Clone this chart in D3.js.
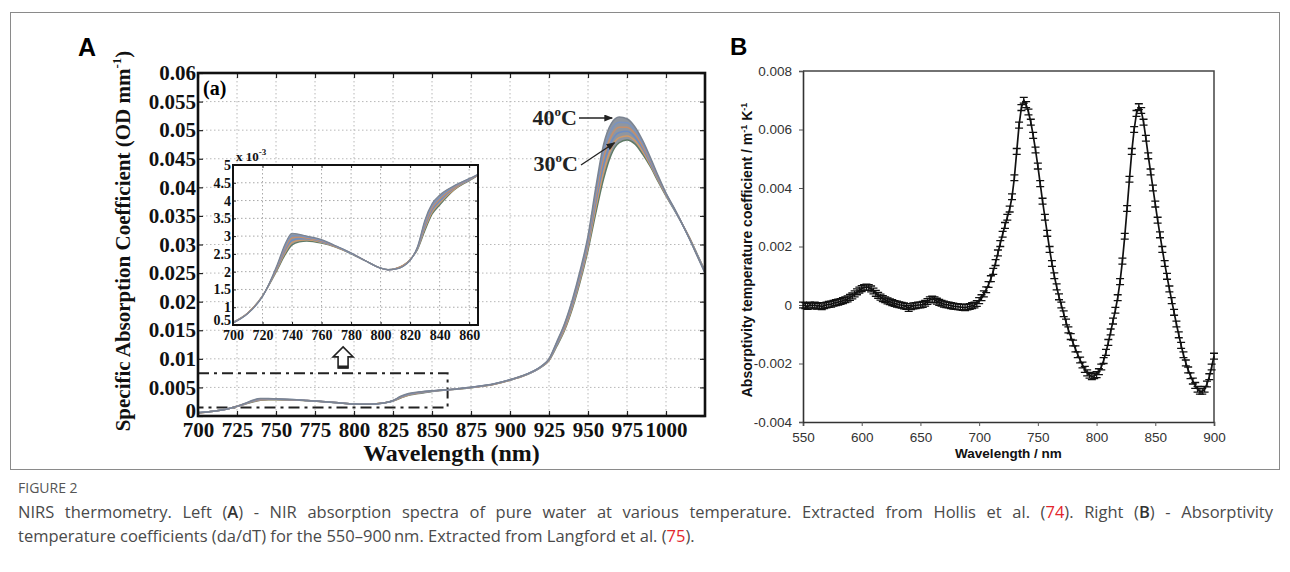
<!DOCTYPE html>
<html>
<head>
<meta charset="utf-8">
<script src="https://cdn.jsdelivr.net/npm/d3@7"></script>
<style>
  body { margin: 0; background: #fff; }
  svg { display: block; }
</style>
</head>
<body>
<svg id="chart" width="1290" height="572"></svg>
<script>
// ---- panel A: specific absorption (units of 1e-3 OD/mm) at several temperatures ----
const wlA = [700, 710, 720, 730, 735, 740, 745, 750, 760, 770, 780, 790, 800, 805, 810, 820, 825, 830, 835, 840,
  850, 860, 866, 875, 890, 900, 910, 920, 925, 930, 935, 940, 945, 950, 955, 960, 965, 970, 975, 980,
  985, 990, 995, 1000, 1005, 1010, 1015, 1020, 1025];
const abs30 = [0.58, 0.84, 1.32, 2.05, 2.45, 2.75, 2.84, 2.86, 2.80, 2.68, 2.50, 2.30, 2.10, 2.06, 2.09, 2.34, 2.62, 3.15, 3.62, 3.87,
  4.30, 4.56, 4.70, 4.95, 5.55, 6.25, 7.15, 8.55, 9.70, 12.2, 15.0, 18.8, 23.5, 29.0, 35.5, 41.5, 45.8, 47.8, 48.3, 47.6,
  45.8, 43.6, 41.0, 38.5, 36.2, 33.8, 31.2, 28.3, 25.4];
const abs32 = [0.57, 0.84, 1.32, 2.08, 2.51, 2.82, 2.88, 2.89, 2.82, 2.69, 2.51, 2.30, 2.10, 2.06, 2.09, 2.34, 2.64, 3.21, 3.68, 3.93,
  4.32, 4.57, 4.71, 4.97, 5.57, 6.27, 7.17, 8.58, 9.76, 12.4, 15.2, 19.1, 23.9, 29.5, 36.4, 42.7, 46.9, 48.7, 49.0, 48.2,
  46.3, 43.9, 41.2, 38.6, 36.3, 33.8, 31.2, 28.2, 25.3];
const abs34 = [0.57, 0.83, 1.31, 2.11, 2.57, 2.88, 2.92, 2.92, 2.84, 2.70, 2.51, 2.30, 2.10, 2.06, 2.08, 2.33, 2.65, 3.27, 3.74, 3.98,
  4.35, 4.58, 4.72, 4.99, 5.59, 6.29, 7.19, 8.61, 9.82, 12.5, 15.5, 19.4, 24.3, 30.0, 37.3, 43.9, 48.0, 49.6, 49.8, 48.8,
  46.8, 44.2, 41.4, 38.7, 36.3, 33.8, 31.1, 28.2, 25.2];
const abs36 = [0.56, 0.83, 1.31, 2.14, 2.63, 2.95, 2.97, 2.94, 2.86, 2.70, 2.52, 2.30, 2.10, 2.05, 2.08, 2.33, 2.67, 3.33, 3.80, 4.04,
  4.37, 4.60, 4.72, 5.01, 5.61, 6.31, 7.21, 8.64, 9.88, 12.7, 15.7, 19.8, 24.7, 30.5, 38.2, 45.1, 49.0, 50.5, 50.5, 49.4,
  47.2, 44.6, 41.6, 38.8, 36.4, 33.8, 31.1, 28.1, 25.2];
const abs38 = [0.56, 0.82, 1.30, 2.17, 2.69, 3.01, 3.01, 2.97, 2.88, 2.71, 2.52, 2.30, 2.10, 2.05, 2.07, 2.32, 2.68, 3.39, 3.86, 4.09,
  4.40, 4.61, 4.73, 5.03, 5.63, 6.33, 7.23, 8.67, 9.94, 12.8, 16.0, 20.1, 25.1, 31.0, 39.1, 46.3, 50.1, 51.4, 51.3, 50.0,
  47.7, 44.9, 41.8, 38.9, 36.4, 33.8, 31.0, 28.1, 25.1];
const abs40 = [0.55, 0.82, 1.30, 2.20, 2.75, 3.08, 3.05, 3.00, 2.90, 2.72, 2.53, 2.30, 2.10, 2.05, 2.07, 2.32, 2.70, 3.45, 3.92, 4.15,
  4.42, 4.62, 4.74, 5.05, 5.65, 6.35, 7.25, 8.70, 10.0, 13.0, 16.2, 20.4, 25.5, 31.5, 40.0, 47.5, 51.2, 52.3, 52.0, 50.6,
  48.2, 45.2, 42.0, 39.0, 36.5, 33.8, 31.0, 28.0, 25.0];
const curvesA = [abs30, abs32, abs34, abs36, abs38, abs40];
const curveColors = ["#5f7a66", "#cf9a6a", "#6d8dc2", "#c58f6c", "#7a93c0", "#7b8492"];

const xTicksA = [700, 725, 750, 775, 800, 825, 850, 875, 900, 925, 950, 975, 1000];
const yTicksA = [0, 0.005, 0.01, 0.015, 0.02, 0.025, 0.03, 0.035, 0.04, 0.045, 0.05, 0.055, 0.06];
const xTicksInset = [700, 720, 740, 760, 780, 800, 820, 840, 860];
const yTicksInset = [0.5, 1, 1.5, 2, 2.5, 3, 3.5, 4, 4.5, 5];

// ---- panel B: absorptivity temperature coefficient (units of 1e-3 m^-1 K^-1), every 2 nm ----
const wlB = d3.range(550, 901, 2);
const dadT = [
  0.00, -0.02, -0.05, 0.00, -0.03, 0.00, -0.04, -0.02, -0.06, -0.02, 0.00, 0.02, 0.03, 0.06, 0.08, 0.10, 0.12, 0.15, 0.18, 0.21, 0.26, 0.31, 0.38, 0.45, 0.51,
  0.56, 0.60, 0.61, 0.60, 0.55, 0.48, 0.40, 0.33, 0.27, 0.22, 0.18, 0.14, 0.11, 0.08, 0.05, 0.03, 0.01, -0.01, -0.03, -0.05, -0.12, -0.06, -0.03, -0.02, 0.00,
  0.00, 0.02, 0.06, 0.12, 0.18, 0.20, 0.18, 0.13, 0.09, 0.06, 0.03, 0.01, 0.00, -0.02, -0.04, -0.05, -0.06, -0.07, -0.08, -0.09, -0.07, -0.05, -0.02, 0.00, 0.05,
  0.15, 0.25, 0.38, 0.52, 0.70, 0.90, 1.15, 1.45, 1.78, 2.10, 2.42, 2.72, 3.00, 3.28, 3.70, 4.35, 5.25, 6.15, 6.75, 7.00, 6.85, 6.60, 6.25, 5.80, 5.30,
  4.75, 4.15, 3.55, 3.00, 2.45, 1.90, 1.42, 1.00, 0.62, 0.28, 0.00, -0.30, -0.58, -0.85, -1.08, -1.30, -1.50, -1.70, -1.88, -2.05, -2.20, -2.32, -2.40, -2.45, -2.42,
  -2.38, -2.28, -2.12, -1.90, -1.62, -1.28, -0.92, -0.55, -0.18, 0.25, 0.80, 1.50, 2.35, 3.30, 4.30, 5.25, 6.00, 6.55, 6.78, 6.65, 6.25, 5.70, 5.10, 4.55, 4.00,
  3.45, 2.90, 2.40, 1.90, 1.42, 0.98, 0.55, 0.15, -0.25, -0.65, -1.02, -1.38, -1.70, -1.98, -2.22, -2.42, -2.60, -2.75, -2.88, -2.95, -2.95, -2.88, -2.70, -2.45, -2.12,
  -1.75];
const errB = 0.1;
const xTicksB = [550, 600, 650, 700, 750, 800, 850, 900];
const yTicksB = [-0.004, -0.002, 0, 0.002, 0.004, 0.006, 0.008];

const serif = "'Liberation Serif', 'Times New Roman', serif";
const sans = "'Liberation Sans', Arial, sans-serif";
const capFont = "'Open Sans', 'Noto Sans', sans-serif";

const svg = d3.select("#chart");

// outer figure frame
svg.append("rect")
  .attr("x", 10.5).attr("y", 12.5).attr("width", 1269).attr("height", 457)
  .attr("fill", "none").attr("stroke", "#8a8a8a").attr("stroke-width", 1);

const defs = svg.append("defs");
defs.append("marker").attr("id", "arr").attr("viewBox", "0 0 10 8")
  .attr("refX", 9).attr("refY", 4).attr("markerWidth", 9).attr("markerHeight", 7)
  .attr("orient", "auto").attr("markerUnits", "userSpaceOnUse")
  .append("path").attr("d", "M0,0 L10,4 L0,8 Z").attr("fill", "#222");

// ======================= PANEL A =======================
const xA = d3.scaleLinear().domain([700, 1025]).range([198, 705]);
const yA = d3.scaleLinear().domain([0, 0.06]).range([416, 73]);
const [ax0, ax1] = xA.range();
const [ay1, ay0] = yA.range();

defs.append("clipPath").attr("id", "clipA").append("rect")
  .attr("x", ax0).attr("y", ay0).attr("width", ax1 - ax0).attr("height", ay1 - ay0);

const gA = svg.append("g");

// dotted grid
gA.append("g").selectAll("line").data(xTicksA.slice(1)).join("line")
  .attr("x1", d => xA(d)).attr("x2", d => xA(d)).attr("y1", ay0).attr("y2", ay1)
  .attr("stroke", "#b8b8b8").attr("stroke-width", 1).attr("stroke-dasharray", "1.5,2.5");
gA.append("g").selectAll("line").data(yTicksA.slice(1, -1)).join("line")
  .attr("x1", ax0).attr("x2", ax1).attr("y1", d => yA(d)).attr("y2", d => yA(d))
  .attr("stroke", "#b8b8b8").attr("stroke-width", 1).attr("stroke-dasharray", "1.5,2.5");

// zoom-region box (dash-dot)
gA.append("rect")
  .attr("x", xA(700)).attr("y", yA(0.0075))
  .attr("width", xA(860) - xA(700)).attr("height", yA(0.0015) - yA(0.0075))
  .attr("fill", "none").attr("stroke", "#222").attr("stroke-width", 2)
  .attr("stroke-dasharray", "11,5,3,5");

// curves
const plotA = gA.append("g").attr("clip-path", "url(#clipA)");
plotA.append("path")
  .attr("d", d3.area().curve(d3.curveMonotoneX)
    .x((d, i) => xA(wlA[i]))
    .y0((d, i) => yA(abs30[i] / 1000))
    .y1(d => yA(d / 1000))(abs40))
  .attr("fill", "#8f96a0");
const lineA = d3.line().curve(d3.curveMonotoneX)
  .x((d, i) => xA(wlA[i])).y(d => yA(d / 1000));
plotA.selectAll("path.t").data(curvesA).join("path").attr("class", "t")
  .attr("d", lineA).attr("fill", "none")
  .attr("stroke", (d, i) => curveColors[i]).attr("stroke-width", 1.5);

// axes
const axA_b = gA.append("g").attr("transform", `translate(0,${ay1})`)
  .call(d3.axisBottom(xA).tickValues(xTicksA).tickSize(-5).tickPadding(6).tickFormat(d => d));
const axA_l = gA.append("g").attr("transform", `translate(${ax0},0)`)
  .call(d3.axisLeft(yA).tickValues(yTicksA).tickSize(-5).tickPadding(2).tickFormat(d => String(d)));
gA.append("g").attr("transform", `translate(0,${ay0})`)
  .call(d3.axisTop(xA).tickValues(xTicksA).tickSize(-5).tickFormat(""));
gA.append("g").attr("transform", `translate(${ax1},0)`)
  .call(d3.axisRight(yA).tickValues(yTicksA).tickSize(-5).tickFormat(""));
gA.selectAll(".domain").remove();
gA.selectAll(".tick line").attr("stroke", "#222").attr("stroke-width", 1.2);
[axA_b, axA_l].forEach(g => g.selectAll("text")
  .attr("font-family", serif).attr("font-weight", "bold").attr("font-size", 21).attr("fill", "#111"));
axA_l.selectAll("text").filter(d => d === 0).attr("dy", "0.05em");

// frame
gA.append("rect").attr("x", ax0).attr("y", ay0).attr("width", ax1 - ax0).attr("height", ay1 - ay0)
  .attr("fill", "none").attr("stroke", "#111").attr("stroke-width", 2.6);

// up arrow (hollow)
const ucx = xA(793), utop = yA(0.0121), ubot = yA(0.0084);
gA.append("path")
  .attr("d", `M${ucx},${utop} L${ucx + 10},${utop + 10} L${ucx + 5},${utop + 10} L${ucx + 5},${ubot} L${ucx - 5},${ubot} L${ucx - 5},${utop + 10} L${ucx - 10},${utop + 10} Z`)
  .attr("fill", "#fff").attr("stroke", "#222").attr("stroke-width", 1.6);
gA.append("line").attr("x1", ucx - 5).attr("x2", ucx + 5).attr("y1", ubot - 1).attr("y2", ubot - 1)
  .attr("stroke", "#222").attr("stroke-width", 3);

// "(a)"
gA.append("text").attr("x", ax0 + 5).attr("y", ay0 + 22)
  .attr("font-family", serif).attr("font-weight", "bold").attr("font-size", 20).text("(a)");

// temperature annotations
const tA = gA.append("g").attr("font-family", serif).attr("font-weight", "bold").attr("font-size", 22).attr("fill", "#222");
function tempLabel(x, y, t) {
  const txt = tA.append("text").attr("x", x).attr("y", y).attr("text-anchor", "end");
  txt.append("tspan").text(t);
  txt.append("tspan").attr("font-size", 13).attr("dy", -9).text("o");
  txt.append("tspan").attr("dy", 9).text("C");
}
tempLabel(577, 125, "40");
tempLabel(578, 171, "30");
gA.append("line").attr("x1", 579).attr("y1", 118).attr("x2", xA(965.5)).attr("y2", 118)
  .attr("stroke", "#222").attr("stroke-width", 1.3).attr("marker-end", "url(#arr)");
gA.append("line").attr("x1", 581).attr("y1", 165).attr("x2", xA(967)).attr("y2", yA(0.0478))
  .attr("stroke", "#222").attr("stroke-width", 1.3).attr("marker-end", "url(#arr)");

// ---- inset ----
const xI = d3.scaleLinear().domain([700, 866]).range([233, 478]);
const yI = d3.scaleLinear().domain([0.5, 5]).range([325, 165]);
const [ix0, ix1] = xI.range();
const [iy1, iy0] = yI.range();
defs.append("clipPath").attr("id", "clipI").append("rect")
  .attr("x", ix0).attr("y", iy0).attr("width", ix1 - ix0).attr("height", iy1 - iy0);

const gI = svg.append("g");
gI.append("rect").attr("x", ix0).attr("y", iy0).attr("width", ix1 - ix0).attr("height", iy1 - iy0).attr("fill", "#fff");
gI.append("g").selectAll("line").data(xTicksInset.slice(1)).join("line")
  .attr("x1", d => xI(d)).attr("x2", d => xI(d)).attr("y1", iy0).attr("y2", iy1)
  .attr("stroke", "#a8a8a8").attr("stroke-dasharray", "1.5,2.5");
gI.append("g").selectAll("line").data(yTicksInset.slice(1, -1)).join("line")
  .attr("x1", ix0).attr("x2", ix1).attr("y1", d => yI(d)).attr("y2", d => yI(d))
  .attr("stroke", "#a8a8a8").attr("stroke-dasharray", "1.5,2.5");

const plotI = gI.append("g").attr("clip-path", "url(#clipI)");
plotI.append("path")
  .attr("d", d3.area().curve(d3.curveMonotoneX)
    .x((d, i) => xI(wlA[i]))
    .y0((d, i) => yI(abs30[i]))
    .y1(d => yI(d))(abs40))
  .attr("fill", "#8f96a0");
const lineI = d3.line().curve(d3.curveMonotoneX).x((d, i) => xI(wlA[i])).y(d => yI(d));
plotI.selectAll("path.t").data(curvesA).join("path").attr("class", "t")
  .attr("d", lineI).attr("fill", "none")
  .attr("stroke", (d, i) => curveColors[i]).attr("stroke-width", 1.2);

const axI_b = gI.append("g").attr("transform", `translate(0,${iy1})`)
  .call(d3.axisBottom(xI).tickValues(xTicksInset).tickSize(-3).tickPadding(5));
const axI_l = gI.append("g").attr("transform", `translate(${ix0},0)`)
  .call(d3.axisLeft(yI).tickValues(yTicksInset).tickSize(-3).tickPadding(2).tickFormat(d => String(d)));
gI.append("g").attr("transform", `translate(0,${iy0})`).call(d3.axisTop(xI).tickValues(xTicksInset).tickSize(-3).tickFormat(""));
gI.append("g").attr("transform", `translate(${ix1},0)`).call(d3.axisRight(yI).tickValues(yTicksInset).tickSize(-3).tickFormat(""));
gI.selectAll(".domain").remove();
gI.selectAll(".tick line").attr("stroke", "#222");
[axI_b, axI_l].forEach(g => g.selectAll("text")
  .attr("font-family", serif).attr("font-weight", "bold").attr("font-size", 14).attr("fill", "#111"));
axI_l.selectAll("text").filter(d => d === 0.5).attr("dy", "-0.05em");
gI.append("rect").attr("x", ix0).attr("y", iy0).attr("width", ix1 - ix0).attr("height", iy1 - iy0)
  .attr("fill", "none").attr("stroke", "#111").attr("stroke-width", 2);
const expo = gI.append("text").attr("x", ix0 + 3).attr("y", iy0 - 4)
  .attr("font-family", serif).attr("font-weight", "bold").attr("font-size", 13).attr("fill", "#111");
expo.append("tspan").text("x 10");
expo.append("tspan").attr("font-size", 9).attr("dy", -6).text("-3");

// panel A titles
svg.append("text").attr("x", 78).attr("y", 56)
  .attr("font-family", sans).attr("font-weight", "bold").attr("font-size", 25).text("A");
svg.append("text").attr("x", (ax0 + ax1) / 2).attr("y", 461).attr("text-anchor", "middle")
  .attr("font-family", serif).attr("font-weight", "bold").attr("font-size", 24).attr("fill", "#111")
  .text("Wavelength (nm)");
const ytA = svg.append("text").attr("transform", "translate(130,241) rotate(-90)").attr("text-anchor", "middle")
  .attr("font-family", serif).attr("font-weight", "bold").attr("font-size", 21).attr("fill", "#111");
ytA.append("tspan").text("Specific Absorption Coefficient (OD mm");
ytA.append("tspan").attr("font-size", 13).attr("dy", -9).text("-1");
ytA.append("tspan").attr("dy", 9).text(")");

// ======================= PANEL B =======================
const xB = d3.scaleLinear().domain([550, 900]).range([803, 1214]);
const yB = d3.scaleLinear().domain([-0.004, 0.008]).range([422, 71]);
const [bx0, bx1] = xB.range();
const [by1, by0] = yB.range();
const gB = svg.append("g");

const axB_b = gB.append("g").attr("transform", `translate(0,${by1})`)
  .call(d3.axisBottom(xB).tickValues(xTicksB).tickSize(4).tickPadding(6).tickFormat(d => d));
const axB_l = gB.append("g").attr("transform", `translate(${bx0},0)`)
  .call(d3.axisLeft(yB).tickValues(yTicksB).tickSize(4).tickPadding(7).tickFormat(d => String(d)));
gB.selectAll(".domain").attr("stroke", "#333").attr("stroke-width", 1.6);
gB.selectAll(".tick line").attr("stroke", "#555");
[axB_b, axB_l].forEach(g => g.selectAll("text")
  .attr("font-family", sans).attr("font-size", 13.5).attr("fill", "#333"));
gB.append("path").attr("d", `M${bx0},${by0} H${bx1} V${by1}`)
  .attr("fill", "none").attr("stroke", "#444").attr("stroke-width", 1.5);

// error bars and line
const ebar = gB.append("g").attr("stroke", "#111").attr("stroke-width", 1.3);
ebar.selectAll("path").data(dadT).join("path")
  .attr("d", (d, i) => {
    const x = xB(wlB[i]), lo = yB((d - errB) / 1000), hi = yB((d + errB) / 1000);
    return `M${x - 4},${hi} H${x + 4} M${x},${hi} V${lo} M${x - 4},${lo} H${x + 4}`;
  });
gB.append("path")
  .attr("d", d3.line().x((d, i) => xB(wlB[i])).y(d => yB(d / 1000))(dadT))
  .attr("fill", "none").attr("stroke", "#111").attr("stroke-width", 1.7);

svg.append("text").attr("x", 730).attr("y", 55)
  .attr("font-family", sans).attr("font-weight", "bold").attr("font-size", 24).text("B");
svg.append("text").attr("x", (bx0 + bx1) / 2).attr("y", 458).attr("text-anchor", "middle")
  .attr("font-family", sans).attr("font-weight", "bold").attr("font-size", 13.5).attr("fill", "#111")
  .text("Wavelength / nm");
const ytB = svg.append("text").attr("transform", "translate(752,250) rotate(-90)").attr("text-anchor", "middle")
  .attr("font-family", sans).attr("font-weight", "bold").attr("font-size", 14).attr("fill", "#111");
ytB.append("tspan").text("Absorptivity temperature coefficient / m");
ytB.append("tspan").attr("font-size", 9).attr("dy", -5).text("-1");
ytB.append("tspan").attr("dy", 5).text(" K");
ytB.append("tspan").attr("font-size", 9).attr("dy", -5).text("-1");

// ======================= CAPTION =======================
const cap = svg.append("g").attr("font-family", capFont).attr("fill", "#4a4a4a");
cap.append("text").attr("x", 18).attr("y", 493).attr("font-size", 14).attr("fill", "#555").text("FIGURE 2");
const l1 = cap.append("text").attr("x", 18).attr("y", 518).attr("font-size", 16.5);
[["NIRS thermometry. Left (", null], ["A", "b"], [") - NIR absorption spectra of pure water at various temperature. Extracted from Hollis et al. (", null],
 ["74", "r"], ["). Right (", null], ["B", "b"], [") - Absorptivity", null]].forEach(([t, s]) => {
  const ts = l1.append("tspan").text(t);
  if (s === "r") ts.attr("fill", "#e3262c");
  if (s === "b") ts.attr("font-weight", 600).attr("fill", "#333");
});
// justified first line: widen word spacing to reach the right margin
const l1Text = l1.text();
const spaces = (l1Text.match(/ /g) || []).length;
const natural = l1.node().getComputedTextLength();
l1.attr("word-spacing", Math.max(0, (1273 - 18 - natural) / spaces));
const l2 = cap.append("text").attr("x", 18).attr("y", 542).attr("font-size", 16.5);
[["temperature coefficients (da/dT) for the 550\u2013900\u2009nm. Extracted from Langford et al. (", null], ["75", "r"], [").", null]]
  .forEach(([t, s]) => {
    const ts = l2.append("tspan").text(t);
    if (s === "r") ts.attr("fill", "#e3262c");
  });
</script>
</body>
</html>
